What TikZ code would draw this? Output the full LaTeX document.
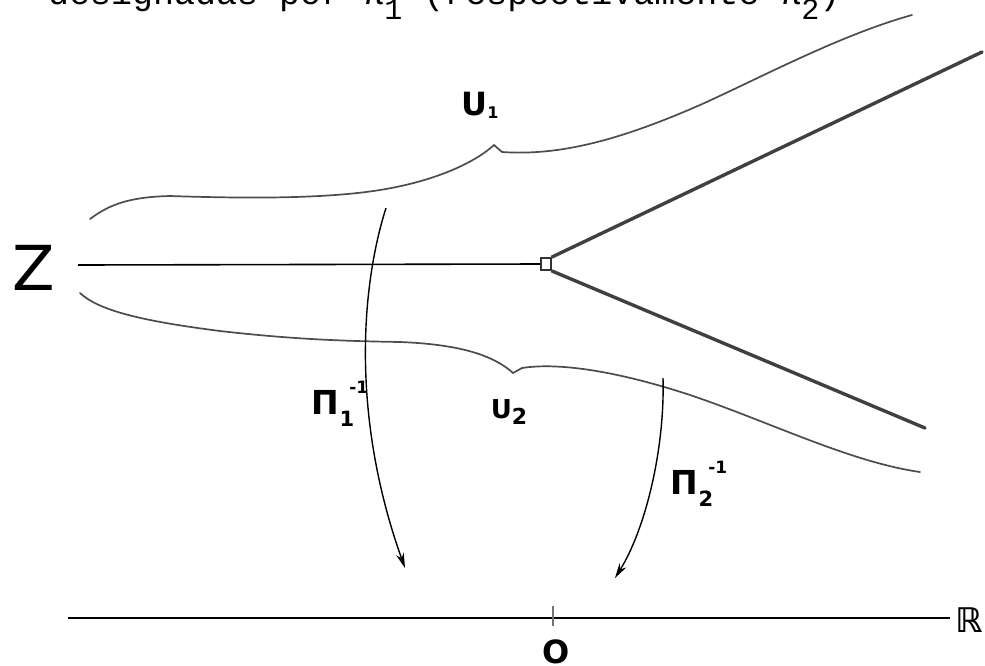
\documentclass[tikz,border=0pt]{standalone}
\usepackage{fontspec}
\newfontfamily\lbl{DejaVu Sans}
\newfontfamily\lblb{DejaVu Sans Bold}
\newfontfamily\tw{Liberation Mono}
\usetikzlibrary{arrows.meta}
\newcommand{\pilab}[1]{Π\makebox[0pt][l]{\hspace{0.3em}\raisebox{0.62em}{\fontsize{17}{17}\selectfont -1}}\raisebox{-0.38em}{\fontsize{21}{21}\selectfont #1}}
\begin{document}
\begin{tikzpicture}[x=1pt,y=-1pt,
  bnd/.style={draw=black!70, line width=1.7pt, line cap=round},
  ray/.style={draw=black!75, line width=3.4pt, line cap=round},
  axis/.style={draw=black, line width=1.6pt},
  arr/.style={draw=black, line width=1.4pt, -{Stealth[length=15pt,width=8pt]}},
  lab/.style={inner sep=0pt, font=\lblb\fontsize{30}{30}\selectfont}]
\useasboundingbox (0,0) rectangle (985,665);
\clip (0,0) rectangle (985,665);
% clipped line of text at the top
\node[anchor=base west, inner sep=0pt, font=\tw\fontsize{35}{35}\selectfont] (toptext) at (48,4)
  {designadas por π\raisebox{-0.45em}{\fontsize{30}{30}\selectfont 1} (respectivamente π\raisebox{-0.45em}{\fontsize{30}{30}\selectfont 2})};
% Z and its line
\node[inner sep=0pt, font=\lbl\fontsize{62}{62}\selectfont] (Z) at (34,268) {Z};
\coordinate (zl) at (78,265);
\node[draw=black!80, line width=2pt, minimum width=10pt, minimum height=12pt, inner sep=0pt] (sq) at (546,264) {};
\draw[axis] (zl) -- (sq.west);
\coordinate (ur) at (982,52);
\coordinate (lr) at (925,428);
\draw[ray] (sq.north east) -- (ur);
\draw[ray] (sq.south east) -- (lr);
% upper boundary with cusp U1
\draw[bnd] (90,219) .. controls (110,204) and (130,197) .. (170,196)
  .. controls (260,199) and (330,198) .. (380,190)
  .. controls (430,182) and (472,165) .. (494,145)
  -- (502,152)
  .. controls (560,156) and (620,140) .. (700,105)
  .. controls (760,78) and (840,35) .. (912,15);
% lower boundary with cusp U2
\draw[bnd] (80,293) .. controls (100,312) and (150,322) .. (220,331)
  .. controls (290,339) and (340,341) .. (400,342)
  .. controls (450,344) and (490,352) .. (513,373)
  -- (522,368)
  .. controls (560,362) and (620,372) .. (690,395)
  .. controls (770,422) and (850,462) .. (920,472);
% arrows
\coordinate (a1s) at (386,208);
\coordinate (a1e) at (405,568);
\draw[arr] (a1s) .. controls (360,290) and (352,420) .. (a1e);
\coordinate (a2s) at (663,378);
\coordinate (a2e) at (615,578);
\draw[arr] (a2s) .. controls (665,450) and (645,530) .. (a2e);
% labels
\node[lab, font=\lblb\fontsize{32}{32}\selectfont] (U1) at (480,105) {U\raisebox{-0.1em}{\fontsize{16}{16}\selectfont 1}};
\node[lab, font=\lblb\fontsize{26}{26}\selectfont] (U2) at (509,412) {U\raisebox{-0.25em}{\fontsize{22}{22}\selectfont 2}};
\node[lab, font=\lblb\fontsize{33}{33}\selectfont] (P1) at (333,404) {\pilab{1}};
\node[lab, font=\lblb\fontsize{33}{33}\selectfont] (P2) at (692,484) {\pilab{2}};
% real line
\coordinate (rl) at (68,618);
\coordinate (rr) at (950,618);
\draw[axis] (rl) -- (rr);
\coordinate (t0) at (553,606);
\coordinate (t1) at (553,626);
\draw[draw=black!55, line width=1.2pt] (t0) -- (t1);
\node[lab, font=\lblb\fontsize{32}{32}\selectfont] (O) at (556,652) {O};
\node[lab, font=\lblb\fontsize{34}{34}\selectfont] (R) at (969,620) {ℝ};
\end{tikzpicture}
\end{document}
